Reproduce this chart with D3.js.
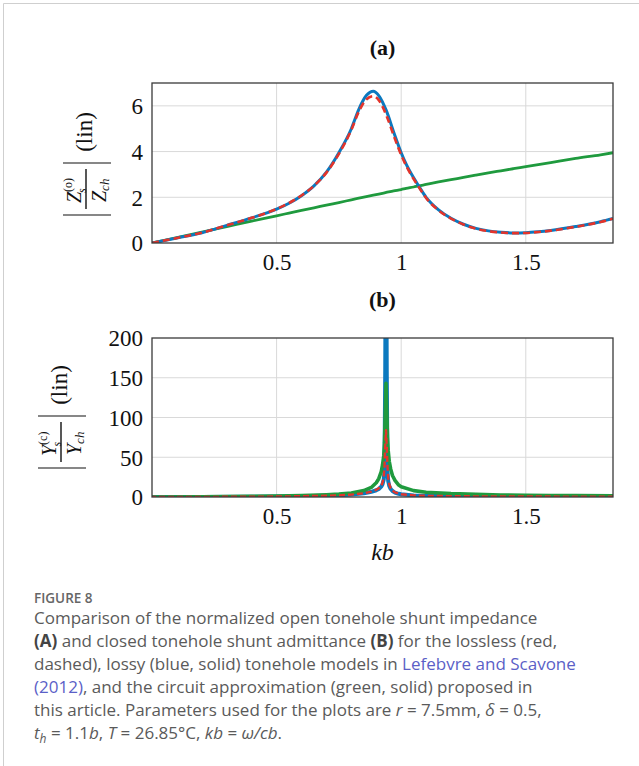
<!DOCTYPE html>
<html>
<head>
<meta charset="utf-8">
<script src="https://cdn.jsdelivr.net/npm/d3@7"></script>
<style>
  body { margin: 0; background: #fff; }
  svg { display: block; }
</style>
</head>
<body>
<script>
const W = 639, H = 766;

// panel (a): open tonehole shunt impedance |Zs/Zch|
const kbA = [0, 0.1, 0.2, 0.3, 0.4, 0.5, 0.55, 0.6, 0.65, 0.7, 0.75, 0.8, 0.83, 0.86, 0.888, 0.91, 0.94, 0.97, 1.0, 1.02, 1.05, 1.07, 1.1, 1.15, 1.2, 1.25, 1.3, 1.35, 1.4, 1.45, 1.5, 1.55, 1.6, 1.7, 1.8, 1.85];
const lossyA = [0, 0.22, 0.45, 0.77, 1.1, 1.48, 1.74, 2.07, 2.5, 3.1, 3.95, 5.0, 5.85, 6.45, 6.64, 6.45, 5.8, 4.85, 3.95, 3.45, 2.85, 2.5, 2.0, 1.45, 1.08, 0.82, 0.64, 0.53, 0.47, 0.44, 0.45, 0.49, 0.55, 0.72, 0.93, 1.07];
const losslessA = [0, 0.22, 0.45, 0.77, 1.1, 1.49, 1.75, 2.08, 2.5, 3.08, 3.9, 4.95, 5.75, 6.28, 6.42, 6.25, 5.6, 4.7, 3.85, 3.38, 2.8, 2.46, 1.97, 1.43, 1.07, 0.81, 0.63, 0.52, 0.46, 0.43, 0.44, 0.48, 0.54, 0.71, 0.92, 1.06];
const circuitA = [0, 0.24, 0.48, 0.72, 0.96, 1.19, 1.31, 1.43, 1.54, 1.66, 1.77, 1.89, 1.96, 2.03, 2.09, 2.14, 2.21, 2.28, 2.34, 2.39, 2.45, 2.5, 2.56, 2.67, 2.77, 2.87, 2.97, 3.07, 3.16, 3.25, 3.34, 3.43, 3.52, 3.7, 3.86, 3.95];

// panel (b): closed tonehole shunt admittance |Ys/Ych|
const kbB = [0, 0.2, 0.4, 0.5, 0.6, 0.7, 0.75, 0.8, 0.85, 0.88, 0.9, 0.91, 0.92, 0.925, 0.93, 0.933, 0.936, 0.939, 0.942, 0.945, 0.948, 0.952, 0.958, 0.965, 0.975, 0.99, 1.0, 1.05, 1.1, 1.2, 1.3, 1.4, 1.5, 1.6, 1.7, 1.85];
const lossyB = [0, 0.1, 0.4, 0.6, 1.0, 1.6, 2.1, 3.0, 4.6, 6.5, 8.5, 10, 13, 16, 22, 32, 160, 400, 160, 32, 20, 14, 10, 7.5, 5.5, 4.0, 3.4, 2.0, 1.5, 1.0, 0.8, 0.7, 0.6, 0.55, 0.5, 0.45];
const losslessB = [0, 0.1, 0.4, 0.6, 1.0, 1.6, 2.1, 3.0, 4.7, 6.7, 9, 11, 14, 18, 25, 38, 64, 84, 64, 38, 24, 16, 11, 8, 5.8, 4.1, 3.5, 2.0, 1.5, 1.0, 0.8, 0.7, 0.6, 0.55, 0.5, 0.45];
const circuitB = [0, 0.3, 0.8, 1.2, 1.8, 2.8, 3.6, 5.0, 8, 12, 18, 23, 32, 40, 52, 68, 105, 143, 110, 75, 58, 45, 35, 27, 21, 15, 13, 8, 6, 4.2, 3.3, 2.6, 2.2, 1.9, 1.7, 1.5];

const xTicks = [0.5, 1, 1.5];
const yTicksA = [0, 2, 4, 6];
const yTicksB = [0, 50, 100, 150, 200];

const blue = "#0b79bf", red = "#e3342b", green = "#1f9a3e";
const serif = "'Liberation Serif', 'DejaVu Serif', serif";

const svg = d3.select("body").append("svg")
  .attr("width", W).attr("height", H);

svg.append("rect").attr("width", W).attr("height", H).attr("fill", "#fff");
// page frame
svg.append("path").attr("d", "M3.5," + H + "V3.5H" + W)
  .attr("fill", "none").attr("stroke", "#cfcfcf").attr("stroke-width", 1);

const left = 152, right = 613;

function panel(cfg) {
  const x = d3.scaleLinear().domain([0, 1.85]).range([left, right]);
  const y = d3.scaleLinear().domain(cfg.yDomain).range([cfg.bottom, cfg.top]);
  const g = svg.append("g");
  const clipId = "clip" + cfg.name;
  g.append("clipPath").attr("id", clipId).append("rect")
    .attr("x", left).attr("y", cfg.top).attr("width", right - left).attr("height", cfg.bottom - cfg.top);

  // grid
  g.append("g").selectAll("line").data(xTicks).join("line")
    .attr("x1", d => x(d)).attr("x2", d => x(d))
    .attr("y1", cfg.top).attr("y2", cfg.bottom)
    .attr("stroke", "#d9d9d9").attr("stroke-width", 1);
  g.append("g").selectAll("line").data(cfg.yTicks.filter(d => d > cfg.yDomain[0] && d < cfg.yDomain[1])).join("line")
    .attr("x1", left).attr("x2", right)
    .attr("y1", d => y(d)).attr("y2", d => y(d))
    .attr("stroke", "#d9d9d9").attr("stroke-width", 1);

  // axes (labels only, pgfplots style)
  const xAxis = d3.axisBottom(x).tickValues(xTicks).tickSize(0).tickPadding(14).tickFormat(d3.format("~g"));
  const gx = g.append("g").attr("transform", "translate(0," + cfg.bottom + ")").call(xAxis);
  const yAxis = d3.axisLeft(y).tickValues(cfg.yTicks).tickSize(0).tickPadding(9).tickFormat(d3.format("~g"));
  const gy = g.append("g").attr("transform", "translate(" + left + ",0)").call(yAxis);
  [gx, gy].forEach(a => {
    a.select(".domain").remove();
    a.selectAll("text").attr("font-family", serif).attr("font-size", 23).attr("fill", "#111");
  });
  gy.selectAll("text").attr("dy", "0.34em");
  gx.selectAll("text").attr("dy", "0.58em");

  const line = d3.line().x(d => x(d[0])).y(d => y(d[1])).curve(cfg.curve);
  const plot = g.append("g").attr("clip-path", "url(#" + clipId + ")");
  cfg.series.forEach(s => {
    plot.append("path")
      .datum(d3.zip(cfg.kb, s.values))
      .attr("d", line)
      .attr("fill", "none")
      .attr("stroke", s.color)
      .attr("stroke-width", s.width)
      .attr("stroke-dasharray", s.dash || null)
      .attr("stroke-dashoffset", s.offset || 0)
      .attr("stroke-linejoin", "round");
  });

  // frame
  g.append("rect").attr("x", left).attr("y", cfg.top)
    .attr("width", right - left).attr("height", cfg.bottom - cfg.top)
    .attr("fill", "none").attr("stroke", "#3a3a3a").attr("stroke-width", 1.3);

  // title
  svg.append("text").attr("x", (left + right) / 2).attr("y", cfg.titleY)
    .attr("text-anchor", "middle").attr("font-family", serif).attr("font-weight", "bold")
    .attr("font-size", 22).attr("fill", "#111").text(cfg.title);

  // rotated y label: |X_s^(.)/X_ch| (lin)
  const lab = svg.append("g")
    .attr("transform", "translate(" + cfg.labX + "," + cfg.labY + ") rotate(-90)")
    .attr("font-family", serif).attr("fill", "#111");
  [-26, 26].forEach(u => lab.append("line")
    .attr("x1", u).attr("x2", u).attr("y1", -23).attr("y2", 25)
    .attr("stroke", "#111").attr("stroke-width", 1.2));
  lab.append("line").attr("x1", -20).attr("x2", 20).attr("y1", 0).attr("y2", 0)
    .attr("stroke", "#111").attr("stroke-width", 1.4);
  const num = lab.append("text").attr("x", -14).attr("y", -5).attr("font-size", 20);
  num.append("tspan").attr("font-style", "italic").text(cfg.sym);
  num.append("tspan").attr("font-size", 12).attr("dy", -9).text(cfg.sup);
  num.append("tspan").attr("font-size", 12).attr("font-style", "italic").attr("dx", -15).attr("dy", 14).text("s");
  const den = lab.append("text").attr("x", -13).attr("y", 20).attr("font-size", 20);
  den.append("tspan").attr("font-style", "italic").text(cfg.sym);
  den.append("tspan").attr("font-size", 13).attr("font-style", "italic").attr("dy", 3).text("ch");
  lab.append("text").attr("x", 57).attr("y", 6).attr("text-anchor", "middle")
    .attr("font-size", 23).text("(lin)");
}

panel({
  name: "a", title: "(a)", titleY: 55, top: 83, bottom: 243, yDomain: [0, 7], yTicks: yTicksA,
  kb: kbA, curve: d3.curveMonotoneX,
  sym: "Z", sup: "(o)", labX: 86, labY: 189,
  series: [
    { values: circuitA, color: green, width: 2.8 },
    { values: lossyA, color: blue, width: 3 },
    { values: losslessA, color: red, width: 2.6, dash: "7,4" }
  ]
});

panel({
  name: "b", title: "(b)", titleY: 307, top: 338, bottom: 497, yDomain: [0, 200], yTicks: yTicksB,
  kb: kbB, curve: d3.curveLinear,
  sym: "Y", sup: "(c)", labX: 61, labY: 442,
  series: [
    { values: lossyB, color: blue, width: 4 },
    { values: circuitB, color: green, width: 3.6 },
    { values: losslessB, color: red, width: 2.4, dash: "6,3", offset: 2 }
  ]
});

svg.append("text").attr("x", (left + right) / 2).attr("y", 560)
  .attr("text-anchor", "middle").attr("font-family", serif).attr("font-style", "italic")
  .attr("font-size", 24).attr("fill", "#111").text("kb");

// caption
const sans = "'Open Sans', 'Noto Sans', sans-serif";
svg.append("text").attr("x", 34).attr("y", 603)
  .attr("font-family", sans).attr("font-size", 13.5).attr("font-weight", 600)
  .attr("fill", "#666").text("FIGURE 8");

const link = "#5b5fc7";
const captionLines = [
  [["Comparison of the normalized open tonehole shunt impedance"]],
  [["(A)", "b"], [" and closed tonehole shunt admittance "], ["(B)", "b"], [" for the lossless (red,"]],
  [["dashed), lossy (blue, solid) tonehole models in "], ["Lefebvre and Scavone", "l"]],
  [["(2012)", "l"], [", and the circuit approximation (green, solid) proposed in"]],
  [["this article. Parameters used for the plots are "], ["r", "i"], [" = 7.5mm, "], ["δ", "i"], [" = 0.5,"]],
  [["t", "i"], ["h", "sub"], [" = 1.1"], ["b", "i"], [", "], ["T", "i"], [" = 26.85°C, "], ["kb", "i"], [" = "], ["ω/cb", "i"], ["."]]
];
const capY = [624, 647, 670, 693, 716, 739];
captionLines.forEach((segs, i) => {
  const t = svg.append("text").attr("x", 34).attr("y", capY[i])
    .attr("font-family", sans).attr("font-size", 17).attr("fill", "#5a5a5a");
  let sub = false;
  segs.forEach(([txt, st]) => {
    const ts = t.append("tspan").text(txt);
    if (st === "b") ts.attr("font-weight", 700).attr("fill", "#444");
    if (st === "l") ts.attr("fill", link);
    if (st === "i") ts.attr("font-style", "italic");
    if (st === "sub") { ts.attr("font-style", "italic").attr("font-size", 12).attr("dy", 4); sub = true; }
    else if (sub) { ts.attr("dy", -4); sub = false; }
  });
});
</script>
</body>
</html>
